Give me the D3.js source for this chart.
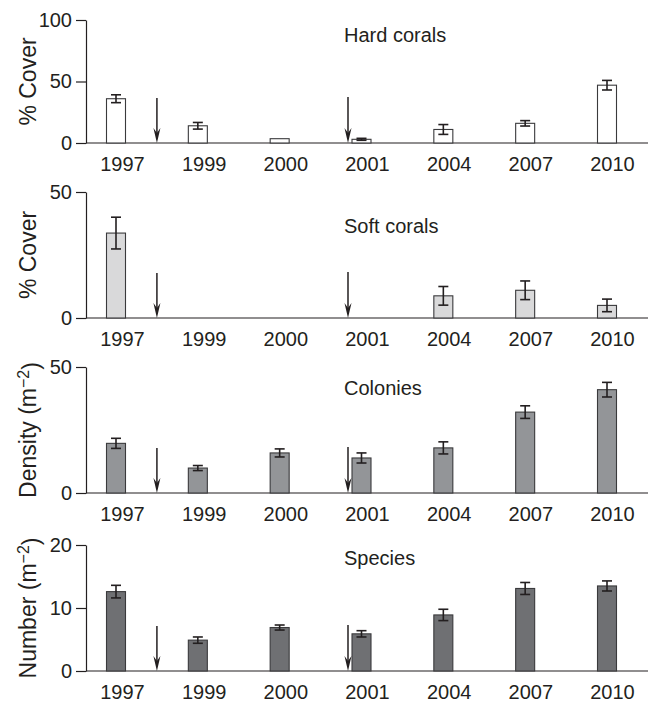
<!DOCTYPE html>
<html>
<head>
<meta charset="utf-8">
<script src="https://cdn.jsdelivr.net/npm/d3@7"></script>
<style>
	body { margin: 0; background: #fff; }
	svg { display: block; font-family: "Liberation Sans", Arial, Helvetica, sans-serif; }
</style>
</head>
<body>
<svg></svg>
<script>
// survey years (categories)
var years = ["1997", "1999", "2000", "2001", "2004", "2007", "2010"];

// hard corals, % cover
var hardMean = [36, 14, 3.5, 3, 11, 16, 47];
var hardErr = [3.2, 2.7, 0, 0.8, 4, 2.2, 3.9];
var hardTicks = [0, 50, 100];

// soft corals, % cover
var softMean = [33.7, 0, 0, 0, 8.8, 11, 5];
var softErr = [6.3, 0, 0, 0, 3.7, 3.7, 2.5];
var softTicks = [0, 50];

// colony density (m-2)
var colMean = [19.7, 9.9, 15.9, 13.9, 17.9, 32.1, 41];
var colErr = [2, 1, 1.6, 2, 2.4, 2.5, 2.9];
var colTicks = [0, 50];

// species number (m-2)
var sppMean = [12.6, 4.9, 6.9, 5.9, 8.9, 13.1, 13.5];
var sppErr = [1, 0.5, 0.4, 0.5, 0.9, 0.95, 0.8];
var sppTicks = [0, 10, 20];

// disturbance events: placed between two surveyed years
var events = [
	{after: "1997", frac: 0.5},
	{after: "2000", frac: 0.835}
];

var width = 651,
	height = 707,
	axisX = 86,
	axisEnd = 648,
	ink = "#231f20";

var panels = [
	{title: "Hard corals", label: "% Cover", sup: false, mean: hardMean, err: hardErr, ticks: hardTicks, fill: "#ffffff", top: 20, bottom: 143, titleY: 42},
	{title: "Soft corals", label: "% Cover", sup: false, mean: softMean, err: softErr, ticks: softTicks, fill: "#d9d9da", top: 192, bottom: 318, titleY: 233},
	{title: "Colonies", label: "Density (m", sup: true, mean: colMean, err: colErr, ticks: colTicks, fill: "#939598", top: 367, bottom: 493, titleY: 395},
	{title: "Species", label: "Number (m", sup: true, mean: sppMean, err: sppErr, ticks: sppTicks, fill: "#6f7073", top: 545, bottom: 671, titleY: 565}
];

var svg = d3.select("svg")
	.attr("width", width)
	.attr("height", height);

// bar centres and label centres (labels sit a little right of the bars)
var xBar = d3.scalePoint().domain(years).range([116, 607]);
var xLab = d3.scalePoint().domain(years).range([122, 612]);
var barW = 19;

panels.forEach(function(p) {
	var g = svg.append("g");

	var y = d3.scaleLinear()
		.domain([0, d3.max(p.ticks)])
		.range([p.bottom, p.top]);

	var data = years.map(function(d, i) {
		return {year: d, mean: p.mean[i], err: p.err[i]};
	});

	// y axis
	var yAxis = g.append("g")
		.attr("transform", "translate(" + axisX + ",0)")
		.call(d3.axisLeft(y).tickValues(p.ticks).tickSize(10).tickPadding(4).tickSizeOuter(0));
	yAxis.select(".domain").attr("stroke", ink).attr("stroke-width", 1.2);
	yAxis.selectAll(".tick line").attr("stroke", ink).attr("stroke-width", 1.2);
	yAxis.selectAll(".tick text")
		.attr("fill", ink)
		.style("font-size", "20px")
		.style("font-family", "'Liberation Sans', Arial, sans-serif");

	// x baseline
	g.append("line")
		.attr("x1", axisX).attr("x2", axisEnd)
		.attr("y1", y(0)).attr("y2", y(0))
		.attr("stroke", ink)
		.attr("stroke-width", 1.2);

	// x labels
	var xAxis = g.append("g")
		.attr("transform", "translate(0," + y(0) + ")")
		.call(d3.axisBottom(xLab).tickSize(0).tickPadding(14));
	xAxis.select(".domain").remove();
	xAxis.selectAll(".tick text")
		.attr("fill", ink)
		.style("font-size", "20px")
		.style("font-family", "'Liberation Sans', Arial, sans-serif");

	// bars
	g.selectAll("rect.bar")
		.data(data.filter(function(d) { return d.mean > 0; }))
		.enter()
		.append("rect")
		.attr("class", "bar")
		.attr("x", function(d) { return xBar(d.year) - barW / 2; })
		.attr("y", function(d) { return y(d.mean); })
		.attr("width", barW)
		.attr("height", function(d) { return y(0) - y(d.mean); })
		.attr("fill", p.fill)
		.attr("stroke", "#3a3a3c")
		.attr("stroke-width", 1.1);

	// error bars
	var eb = g.selectAll("g.err")
		.data(data.filter(function(d) { return d.err > 0; }))
		.enter()
		.append("g")
		.attr("class", "err")
		.attr("stroke", ink)
		.attr("stroke-width", 1.6);
	eb.append("line")
		.attr("x1", function(d) { return xBar(d.year); })
		.attr("x2", function(d) { return xBar(d.year); })
		.attr("y1", function(d) { return y(d.mean - d.err); })
		.attr("y2", function(d) { return y(d.mean + d.err); });
	[-1, 1].forEach(function(s) {
		eb.append("line")
			.attr("x1", function(d) { return xBar(d.year) - 5; })
			.attr("x2", function(d) { return xBar(d.year) + 5; })
			.attr("y1", function(d) { return y(d.mean + s * d.err); })
			.attr("y2", function(d) { return y(d.mean + s * d.err); });
	});

	// arrows for disturbance events
	events.forEach(function(e, i) {
		var i0 = years.indexOf(e.after);
		var ax = xBar(years[i0]) + e.frac * xBar.step();
		var tip = y(0);
		var len = i == 0 ? 45 : 46;
		g.append("line")
			.attr("x1", ax).attr("x2", ax)
			.attr("y1", tip - len).attr("y2", tip - 8)
			.attr("stroke", ink)
			.attr("stroke-width", 1.5);
		g.append("path")
			.attr("d", "M" + ax + "," + tip +
				"L" + (ax - 3.5) + "," + (tip - 15) +
				"L" + ax + "," + (tip - 10) +
				"L" + (ax + 3.5) + "," + (tip - 15) + "Z")
			.attr("fill", ink);
	});

	// panel title
	g.append("text")
		.attr("x", 344)
		.attr("y", p.titleY)
		.attr("fill", ink)
		.style("font-size", "20px")
		.text(p.title);

	// y axis label
	var lab = g.append("text")
		.attr("transform", "translate(36," + ((p.top + p.bottom) / 2) + ") rotate(-90)")
		.attr("text-anchor", "middle")
		.attr("fill", ink)
		.style("font-size", "23px")
		.text(p.label);
	if(p.sup) {
		lab.append("tspan")
			.attr("dy", "-0.45em")
			.style("font-size", "16px")
			.text("\u22122");
		lab.append("tspan")
			.attr("dy", "0.45em")
			.text(")");
	}
});
</script>
</body>
</html>
